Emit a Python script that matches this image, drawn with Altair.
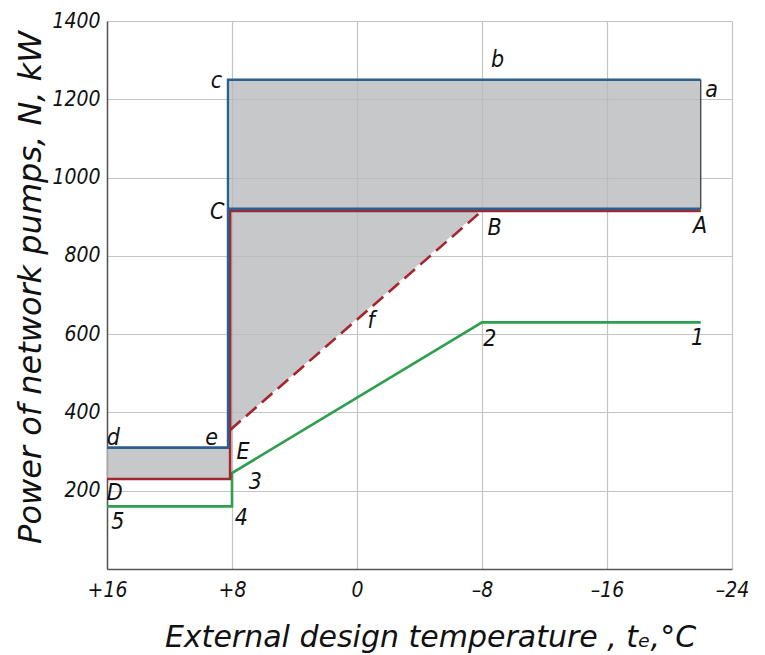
import altair as alt
import pandas as pd

# ---- data ----
temp_ticks = [16, 8, 0, -8, -16, -24]
power_ticks = [200, 400, 600, 800, 1000, 1200, 1400]

blue_x = [16, 8.25, 8.25, -22]
blue_y = [310, 310, 1250, 1250]
blue_mid_x = [8.25, -22]
blue_mid_y = [920, 920]
red_x = [16, 8.12, 8.12, -22]
red_y = [230, 230, 915, 915]
red_dash_x = [8.12, -8]
red_dash_y = [355, 915]
green_x = [16, 8, 8, -8, -22]
green_y = [160, 160, 245, 630, 630]
edge_x = [-22, -22]
edge_y = [920, 1250]

fill_upper_x = [8.12, -8, -22]
fill_upper_lo = [355, 920, 920]
fill_upper_hi = [1250, 1250, 1250]
fill_lower_x = [16, 8.12]
fill_lower_lo = [230, 230]
fill_lower_hi = [310, 310]

point_names = ["a", "b", "c", "A", "B", "C", "f", "1", "2", "d", "e", "E", "3", "D", "5", "4"]
point_x = [-22.7, -9.0, 9.0, -21.95, -8.8, 8.95, -0.9, -21.8, -8.5, 15.6, 9.3, 7.3, 6.5, 15.5, 15.3, 7.4]
point_y = [1224, 1300, 1246, 876, 871, 912, 633, 590, 588, 335, 335, 299, 222, 194, 120, 130]

FONT = "DejaVu Sans Condensed, DejaVu Sans"
TFONT = "DejaVu Sans"
BLUE = "#2c5e8e"
RED = "#a3262c"
GREEN = "#2e9e4f"

def path(xs, ys, name):
    return pd.DataFrame({"t": xs, "p": ys, "i": list(range(len(xs))), "s": name})

xs = alt.Scale(domain=[16, -24], nice=False, zero=False)
ys = alt.Scale(domain=[0, 1400], nice=False, zero=False)

x_axis = alt.Axis(values=temp_ticks, title="External design temperature , tₑ,°C",
                  labelExpr="datum.value > 0 ? '+' + datum.value : (datum.value < 0 ? '–' + abs(datum.value) : '0')",
                  titleX=323, titleY=68, titleAlign="center", titleBaseline="middle", titleFontSize=30)
y_axis = alt.Axis(values=power_ticks, format="d", title="Power of network pumps, N, kW",
                  titleX=-77, titleY=266, titleAlign="center", titleBaseline="middle", titleAngle=-90,
                  titleFontSize=32)

fills = pd.concat([
    pd.DataFrame({"t": fill_upper_x, "lo": fill_upper_lo, "hi": fill_upper_hi, "g": "upper"}),
    pd.DataFrame({"t": fill_lower_x, "lo": fill_lower_lo, "hi": fill_lower_hi, "g": "lower"}),
])

fill_layer = alt.Chart(fills).mark_area(color="#b9babd", opacity=0.8).encode(
    x=alt.X("t:Q", scale=xs, axis=x_axis),
    y=alt.Y("lo:Q", scale=ys, axis=y_axis),
    y2="hi:Q",
    detail="g:N",
)

def line_layer(df, color, width=2.6, dash=None):
    kw = dict(color=color, strokeWidth=width, strokeCap="butt", strokeJoin="miter")
    if dash:
        kw["strokeDash"] = dash
    return alt.Chart(df).mark_line(**kw).encode(
        x=alt.X("t:Q", scale=xs),
        y=alt.Y("p:Q", scale=ys),
        order="i:Q",
        detail="s:N",
    )

edge = line_layer(path(edge_x, edge_y, "edge"), "#333333", width=1.2)
green = line_layer(path(green_x, green_y, "green"), GREEN)
red = line_layer(path(red_x, red_y, "red"), RED)
red_dash = line_layer(path(red_dash_x, red_dash_y, "reddash"), RED, dash=[14, 7])
blue = line_layer(pd.concat([path(blue_x, blue_y, "b1"), path(blue_mid_x, blue_mid_y, "b2")]), BLUE)

labels = pd.DataFrame({"name": point_names, "t": point_x, "p": point_y})
text = alt.Chart(labels).mark_text(font=FONT, fontStyle="italic", fontSize=23, color="#111111").encode(
    x=alt.X("t:Q", scale=xs),
    y=alt.Y("p:Q", scale=ys),
    text="name:N",
)

chart = alt.layer(fill_layer, edge, green, red, red_dash, blue, text).properties(
    width=625, height=548,
    autosize=alt.AutoSizeParams(type="none"),
    padding={"left": 107, "top": 21, "right": 33, "bottom": 86},
).configure_view(stroke=None).configure_axis(
    labelFont=FONT, labelFontStyle="italic", labelFontSize=21, labelColor="#111111",
    titleFont=TFONT, titleFontStyle="italic", titleFontWeight="normal", titleColor="#111111",
    gridColor="#c4c4c4", gridWidth=1.2, ticks=False, domainColor="#555555", domainWidth=1.5,
    labelFlush=False,
).configure_axisX(
    labelPadding=10,
).configure_axisY(
    labelPadding=7,
)

chart.save("out.html", embed_options={"renderer": "svg", "actions": False})
